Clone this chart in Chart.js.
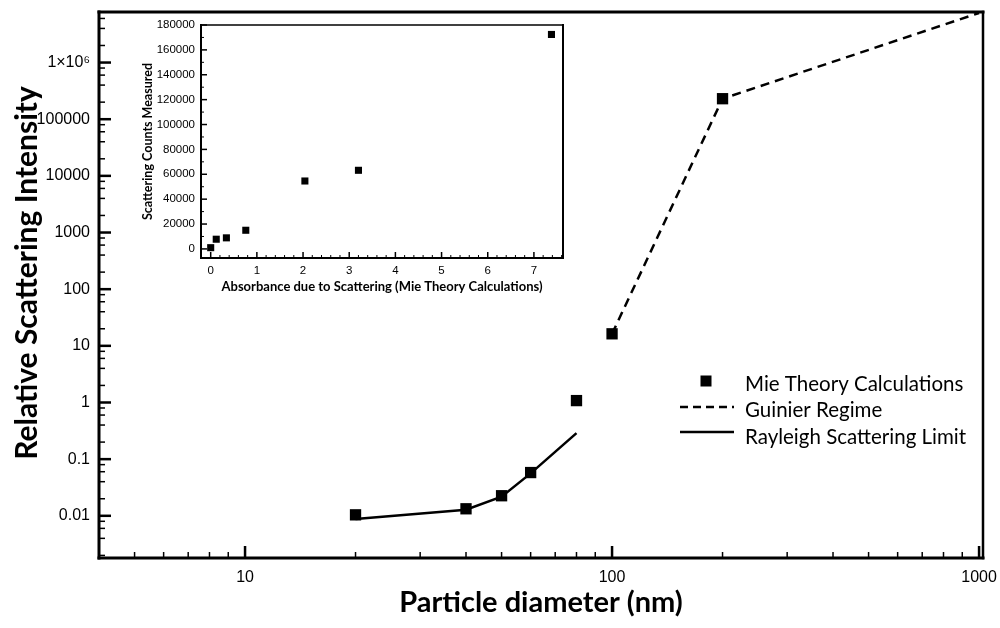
<!DOCTYPE html>
<html>
<head>
<meta charset="utf-8">
<script src="https://cdn.jsdelivr.net/npm/chart.js@4.4.0/dist/chart.umd.min.js"></script>
<style>
html, body { margin:0; padding:0; background:#fff; }
#wrap { position:relative; width:1000px; height:628px; }
#mainChart { position:absolute; left:0; top:0; }
#insetChart { position:absolute; left:140px; top:10px; }
</style>
</head>
<body>
<div id="wrap">
  <canvas id="mainChart" width="1000" height="628"></canvas>
  <canvas id="insetChart" width="430" height="290"></canvas>
</div>
<script>
// main plot: particle diameter (nm) vs relative scattering intensity
const mieDiameters = [20, 40, 50, 60, 80, 100, 200];
const mieIntensity = [0.0104, 0.0133, 0.0226, 0.058, 1.08, 16.3, 230000];
const guinierDiameters = [100, 200, 1000];
const guinierIntensity = [16.3, 230000, 7500000];
const rayleighDiameters = [20, 40, 50, 60, 80];
const rayleighIntensity = [0.0088, 0.0128, 0.0217, 0.056, 0.288];
const xTickValues = [10, 100, 1000];
const xTickLabels = ['10', '100', '1000'];
const yTickValues = [0.01, 0.1, 1, 10, 100, 1000, 10000, 100000, 1000000];
const yTickLabels = ['0.01', '0.1', '1', '10', '100', '1000', '10000', '100000', '1×10⁶'];
const yAxisTitle = 'Relative Scattering Intensity';

// inset: absorbance vs measured counts
const insetAbsorbance = [0.0, 0.12, 0.34, 0.76, 2.04, 3.2, 7.38];
const insetCounts = [1000, 7800, 8900, 15000, 54600, 63200, 172400];
const insetXTicks = [0, 1, 2, 3, 4, 5, 6, 7];
const insetYTicks = [0, 20000, 40000, 60000, 80000, 100000, 120000, 140000, 160000, 180000];

const pts = (xs, ys) => xs.map((x, i) => ({x: x, y: ys[i]}));

// minor tick positions (decoration only)
const mainXMinor = [];
[1, 10, 100, 1000].forEach(d => { for (let k = 2; k <= 9; k++) mainXMinor.push(d * k); });
const mainYMinor = [];
for (let e = -3; e <= 6; e++) { [2, 4, 6, 8].forEach(k => mainYMinor.push(k * Math.pow(10, e))); }
const insetXMinor = [];
for (let i = -1; i < 8; i++) { [0.2, 0.4, 0.6, 0.8].forEach(f => insetXMinor.push(i + f)); }
const insetYMinor = insetYTicks.map(v => v + 10000);

// fixed axis box sizes so the plot area lands where the original is
const fixX = h => s => { s.height = h; s.paddingLeft = 0; s.paddingRight = 0; };
const fixY = w => s => { s.width = w; s.paddingTop = 0; s.paddingBottom = 0; };

// draws frame + inward tick marks
const frameTicks = {
  id: 'frameTicks',
  afterDatasetsDraw(chart, args, o) {
    const {ctx, chartArea: a, scales} = chart;
    const seg = (x1, y1, x2, y2) => { ctx.beginPath(); ctx.moveTo(x1, y1); ctx.lineTo(x2, y2); ctx.stroke(); };
    ctx.save();
    ctx.strokeStyle = '#000';
    ctx.lineWidth = o.minorWidth;
    o.xMinor.forEach(v => {
      const px = scales.x.getPixelForValue(v);
      if (px > a.left + 2 && px < a.right - 1) seg(px, a.bottom, px, a.bottom - o.minorLen);
    });
    o.yMinor.forEach(v => {
      const py = scales.y.getPixelForValue(v);
      if (py > a.top + 2 && py < a.bottom - 2) seg(a.left, py, a.left + o.minorLen, py);
    });
    ctx.lineWidth = o.majorWidth;
    scales.x.ticks.forEach(t => {
      const px = scales.x.getPixelForValue(t.value);
      seg(px, a.bottom, px, a.bottom - o.majorLen);
    });
    scales.y.ticks.forEach(t => {
      const py = scales.y.getPixelForValue(t.value);
      seg(a.left, py, a.left + o.majorLen, py);
    });
    // frame
    ctx.lineCap = 'square';
    ctx.lineWidth = o.frameThin;
    seg(a.right, a.top, a.right, a.bottom);
    ctx.lineWidth = o.frameTop;
    seg(a.left, a.top, a.right, a.top);
    ctx.lineWidth = o.frameThick;
    seg(a.left, a.top, a.left, a.bottom);
    seg(a.left, a.bottom, a.right, a.bottom);
    ctx.restore();
  }
};

// legend + y title drawn inside/next to the main plot
const mainLegend = {
  id: 'mainLegend',
  afterDraw(chart) {
    const ctx = chart.ctx;
    const ds = chart.data.datasets;
    ctx.save();
    ctx.fillStyle = '#000';
    ctx.strokeStyle = '#000';
    ctx.fillRect(700.5, 375.5, 11, 11);
    ctx.lineWidth = 2.5;
    ctx.setLineDash([8, 5]);
    ctx.beginPath(); ctx.moveTo(680, 407); ctx.lineTo(734, 407); ctx.stroke();
    ctx.setLineDash([]);
    ctx.beginPath(); ctx.moveTo(680, 432); ctx.lineTo(734, 432); ctx.stroke();
    ctx.font = '20.5px Lato';
    ctx.textBaseline = 'middle';
    ctx.fillText(ds[2].label, 745, 384);
    ctx.fillText(ds[1].label, 745, 410);
    ctx.fillText(ds[0].label, 745, 437);
    // y axis title, sits a little above the plot centre in the original
    ctx.translate(27, 273);
    ctx.rotate(-Math.PI / 2);
    ctx.textAlign = 'center';
    ctx.font = 'bold 30px Lato';
    ctx.fillText(yAxisTitle, 0, 0);
    ctx.restore();
  }
};

new Chart(document.getElementById('mainChart'), {
  type: 'scatter',
  data: {
    datasets: [{
      label: 'Rayleigh Scattering Limit',
      data: pts(rayleighDiameters, rayleighIntensity),
      showLine: true, borderColor: '#000', borderWidth: 2.5, pointRadius: 0
    }, {
      label: 'Guinier Regime',
      data: pts(guinierDiameters, guinierIntensity),
      showLine: true, borderColor: '#000', borderWidth: 2.5, borderDash: [9, 6], pointRadius: 0
    }, {
      label: 'Mie Theory Calculations',
      data: pts(mieDiameters, mieIntensity),
      showLine: false, pointStyle: 'rect', pointRadius: 8, backgroundColor: '#000', borderWidth: 0
    }]
  },
  options: {
    responsive: false, animation: false, devicePixelRatio: 1,
    layout: { padding: { top: 12, right: 17, left: 0, bottom: 0 } },
    plugins: {
      legend: { display: false }, tooltip: { enabled: false },
      frameTicks: { xMinor: mainXMinor, yMinor: mainYMinor, minorLen: 6, majorLen: 12, minorWidth: 1.5, majorWidth: 2.5, frameThick: 3, frameTop: 3, frameThin: 2.5 }
    },
    scales: {
      x: {
        type: 'logarithmic', min: 4.0, max: 1025,
        afterFit: fixX(70),
        afterBuildTicks: s => { s.ticks = xTickValues.map(v => ({value: v})); },
        grid: { display: false, drawTicks: false }, border: { display: false },
        ticks: { autoSkip: false, maxRotation: 0, padding: 10, color: '#000', font: { family: 'Liberation Sans', size: 16 }, callback: (v, i) => xTickLabels[i] },
        title: { display: true, text: 'Particle diameter (nm)', color: '#000', font: { family: 'Lato', weight: 'bold', size: 29 }, padding: { top: 0, bottom: 8 } }
      },
      y: {
        type: 'logarithmic', min: 0.0018, max: 7800000,
        afterFit: fixY(99),
        afterBuildTicks: s => { s.ticks = yTickValues.map(v => ({value: v})); },
        grid: { display: false, drawTicks: false }, border: { display: false },
        ticks: { autoSkip: false, padding: 9, color: '#000', font: { family: 'Liberation Sans', size: 16 }, callback: (v, i) => yTickLabels[i] },
        title: { display: false }
      }
    }
  },
  plugins: [frameTicks, mainLegend]
});

new Chart(document.getElementById('insetChart'), {
  type: 'scatter',
  data: {
    datasets: [{
      label: 'Scattering Counts',
      data: pts(insetAbsorbance, insetCounts),
      pointStyle: 'rect', pointRadius: 5, backgroundColor: '#000', borderWidth: 0
    }]
  },
  options: {
    responsive: false, animation: false, devicePixelRatio: 1,
    layout: { padding: { top: 15, right: 7, left: 0, bottom: 0 } },
    plugins: {
      legend: { display: false }, tooltip: { enabled: false },
      frameTicks: { xMinor: insetXMinor, yMinor: insetYMinor, minorLen: 3, majorLen: 6, minorWidth: 1, majorWidth: 1.5, frameThick: 2, frameTop: 1.5, frameThin: 2 }
    },
    scales: {
      x: {
        type: 'linear', min: -0.21, max: 7.63,
        afterFit: fixX(42),
        afterBuildTicks: s => { s.ticks = insetXTicks.map(v => ({value: v})); },
        grid: { display: false, drawTicks: false }, border: { display: false },
        ticks: { autoSkip: false, maxRotation: 0, padding: 6, color: '#000', font: { family: 'Liberation Sans', size: 11.5 }, callback: (v, i) => String(insetXTicks[i]) },
        title: { display: true, text: 'Absorbance due to Scattering (Mie Theory Calculations)', color: '#000', font: { family: 'Lato', weight: 'bold', size: 13 }, padding: { top: 0, bottom: 5 } }
      },
      y: {
        type: 'linear', min: -7300, max: 180000,
        afterFit: fixY(61),
        afterBuildTicks: s => { s.ticks = insetYTicks.map(v => ({value: v})); },
        grid: { display: false, drawTicks: false }, border: { display: false },
        ticks: { autoSkip: false, padding: 6, color: '#000', font: { family: 'Liberation Sans', size: 11.5 }, callback: (v, i) => String(insetYTicks[i]) },
        title: { display: true, text: 'Scattering Counts Measured', color: '#000', font: { family: 'Lato', weight: 'bold', size: 12.5 }, padding: { top: 0.5, bottom: 0 } }
      }
    }
  },
  plugins: [frameTicks]
});
</script>
</body>
</html>
